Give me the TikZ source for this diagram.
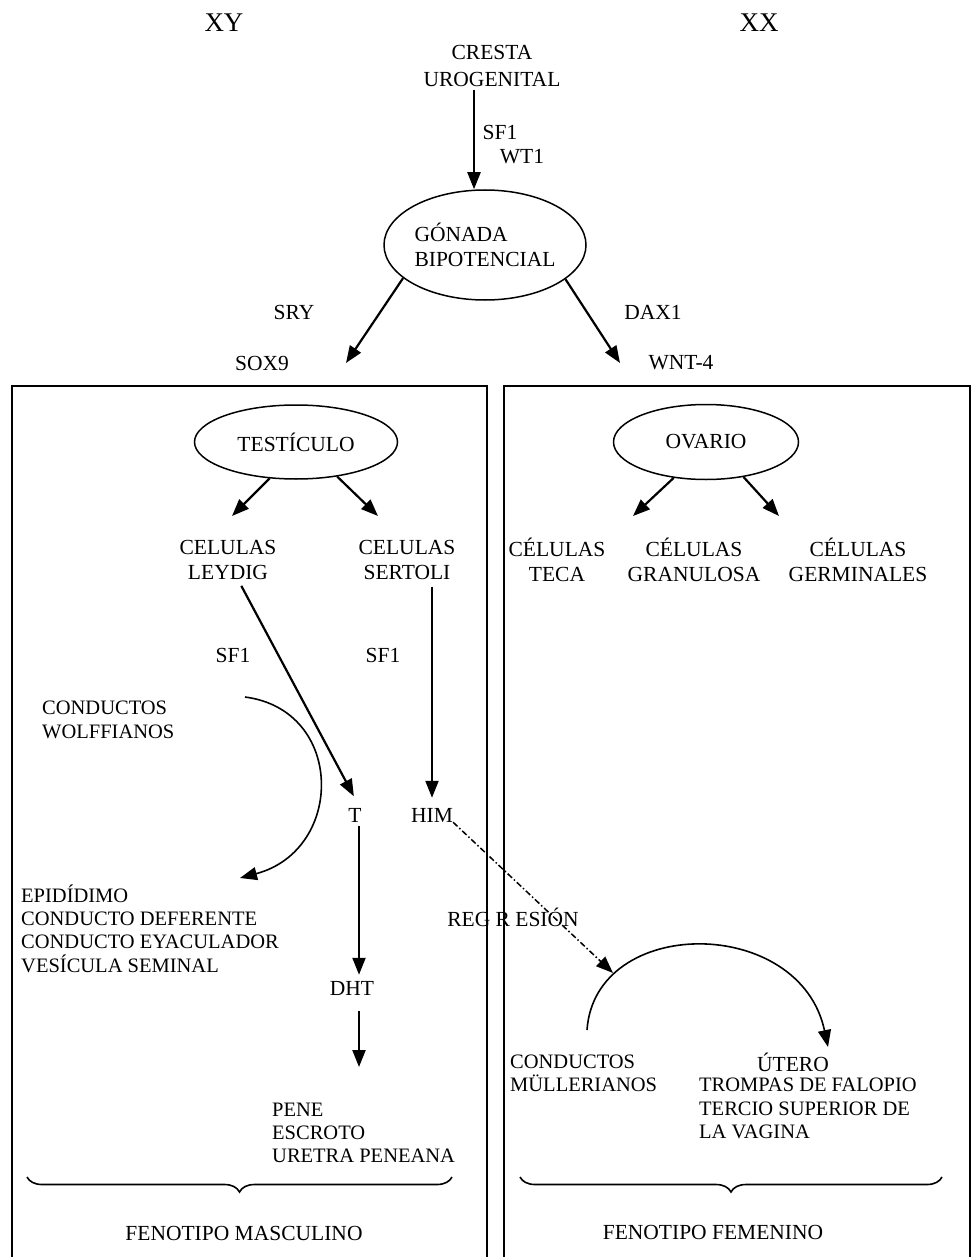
\documentclass[tikz,border=0pt]{standalone}
\usepackage{fontspec}
\setmainfont{Liberation Serif}
\usetikzlibrary{arrows.meta,shapes.geometric,decorations.pathreplacing,calc}

\tikzset{
  txt/.style={font=\fontsize{21.5}{24.5}\selectfont, inner sep=0pt, align=center},
  lst/.style={font=\fontsize{20.5}{23.3}\selectfont, inner sep=0pt, align=left},
  gono/.style={draw, ellipse, line width=1.5pt, inner sep=0pt, font=\fontsize{21.5}{25}\selectfont},
  arr/.style={line width=2.2pt, -{Triangle[length=17pt,width=13pt]}},
  curva/.style={line width=1.6pt, -{Triangle[length=17pt,width=13pt]}},
  caja/.style={line width=2pt},
  llave/.style={line width=1.6pt, decorate, decoration={brace, amplitude=15pt, mirror}},
}

\begin{document}
\begin{tikzpicture}[x=1pt, y=-1pt]
\useasboundingbox (0,0) rectangle (972,1257);

% parte comun
\node [txt, font=\fontsize{27}{30}\selectfont] (xy) at (224,23) {XY};
\node [txt, font=\fontsize{27}{30}\selectfont] (xx) at (759,23) {XX};
\node [txt, font=\fontsize{21.5}{27}\selectfont] (cresta) at (492,65.5) {CRESTA\\UROGENITAL};
\node [gono, minimum width=202pt, minimum height=110pt, align=left] (gonada) at (485,245) {GÓNADA\\BIPOTENCIAL};
\draw [arr, shorten <=4pt] ([xshift=-18pt]cresta.south) -- ([xshift=-11pt]gonada.north);
\node [txt] (sf1a) at (500,132) {SF1};
\node [txt] (wt1) at (522,157) {WT1};

\coordinate (soxtip) at (346,363);
\coordinate (wnttip) at (620,363);
\draw [arr] (gonada.202) -- (soxtip);
\draw [arr] (gonada.-23) -- (wnttip);
\node [txt] (sry) at (294,312) {SRY};
\node [txt] (dax) at (653,312) {DAX1};
\node [txt] (sox) at (262,363) {SOX9};
\node [txt] (wnt) at (681,363) {WNT-4};

% cajas
\draw [caja] (12,1257) -- (12,386) -- (487,386) -- (487,1257);
\draw [caja] (504,1257) -- (504,386) -- (970,386) -- (970,1257);

% lado masculino
\node [gono, minimum width=203pt, minimum height=74pt] (testiculo) at (296,442) {TESTÍCULO};
\coordinate (leytip) at (232,516);
\coordinate (sertip) at (378,516);
\draw [arr] (testiculo.234) -- (leytip);
\draw [arr] (testiculo.-40) -- (sertip);
\node [txt] (leydig) at (228,560) {CELULAS\\LEYDIG};
\node [txt] (sertoli) at (407,560) {CELULAS\\SERTOLI};
\node [txt] (sf1b) at (233,655) {SF1};
\node [txt] (sf1c) at (383,655) {SF1};
\node [txt] (tnode) at (355,815) {T};
\node [txt] (him) at (432,815) {HIM};
\draw [arr, shorten <=7pt, shorten >=13pt] ([xshift=10pt]leydig.south) -- ([xshift=5pt]tnode.north);
\draw [arr, shorten <=7pt, shorten >=10pt] (sertoli.south -| him.north) -- (him.north);

\node [lst, anchor=west] (wolff) at (42,720) {CONDUCTOS\\WOLFFIANOS};
\coordinate (wolffini) at (245,697);
\coordinate (wolffend) at (240,878);
\draw [curva] (wolffini) .. controls (345,710) and (345,850) .. (wolffend);
\node [lst, anchor=west] (epid) at (21,928.5) {EPIDÍDIMO\\CONDUCTO DEFERENTE\\CONDUCTO EYACULADOR\\VESÍCULA SEMINAL};

\node [txt] (dht) at (352,988) {DHT};
\coordinate (dhttip) at (359,1067);
\draw [arr, shorten <=4pt, shorten >=6pt] ([xshift=4pt]tnode.south) -- ([xshift=4pt]tnode.south |- dht.north);
\draw [arr, shorten <=16pt] (dhttip |- dht.south) -- (dhttip);
\node [lst, anchor=west] (pene) at (272,1133) {PENE\\ESCROTO\\URETRA PENEANA};

\draw [llave] (27,1177) -- (452,1177);
\node [txt] (fmasc) at (244,1233) {FENOTIPO MASCULINO};

% lado femenino
\node [gono, minimum width=185pt, minimum height=75pt] (ovario) at (706,442) {OVARIO};
\coordinate (tecatip) at (633,516);
\coordinate (grantip) at (779,516);
\draw [arr] (ovario.228) -- (tecatip);
\draw [arr] (ovario.-43) -- (grantip);
\node [txt] (teca) at (557,560) {CÉLULAS\\TECA};
\node [txt] (granulosa) at (694,560) {CÉLULAS\\GRANULOSA};
\node [txt] (germinal) at (858,560) {CÉLULAS\\GERMINALES};

\coordinate (regtip) at (613,973);
\draw [line width=1.5pt, dash pattern=on 6pt off 2.5pt on 1.5pt off 2.5pt, -{Triangle[length=17pt,width=13pt]}] (him.south east) -- (regtip);
\node [txt] (regresion) at (513,917) {REG R ESIÓN};

\coordinate (mullini) at (587,1030);
\coordinate (mullend) at (828,1047);
\draw [curva] (mullini) .. controls (595,915) and (800,915) .. (mullend);
\node [lst, anchor=west] (muller) at (510,1073.5) {CONDUCTOS\\MÜLLERIANOS};
\node [txt] (utero) at (793,1062) {ÚTERO};
\node [lst, anchor=west] (trompas) at (699,1108.5) {TROMPAS DE FALOPIO\\TERCIO SUPERIOR DE\\LA VAGINA};

\draw [llave] (520,1177) -- (942,1177);
\node [txt] (ffem) at (713,1232) {FENOTIPO FEMENINO};
\end{tikzpicture}
\end{document}
